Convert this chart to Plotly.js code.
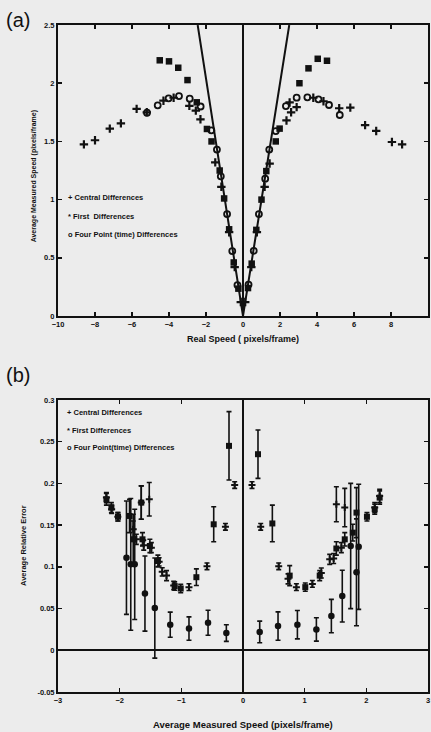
<!DOCTYPE html>
<html><head><meta charset="utf-8">
<script src="https://cdn.plot.ly/plotly-3.0.1.min.js"></script>
<style>html,body{margin:0;padding:0;background:#ececec;}#c{width:431px;height:732px;}</style>
</head><body><div id="c"></div>
<script>
// ---- Panel (a): Real speed vs average measured speed ----
const idealX = [-2.45, 0, 2.5];
const idealY = [2.5, 0, 2.5];

const centralX_a = [-8.6, -8.0, -7.2, -6.6, -5.75, -5.2, -4.3, -3.75, -2.9, -2.55, -2.3, -1.5, -1.17, -0.75, -0.45, -0.12, 0.12, 0.45, 0.75, 1.17, 1.44, 2.35, 2.52, 2.6, 2.9, 3.8, 4.35, 5.2, 5.8, 6.6, 7.2, 8.05, 8.6];
const centralY_a = [1.475, 1.51, 1.61, 1.655, 1.78, 1.75, 1.85, 1.875, 1.805, 1.765, 1.69, 1.32, 1.11, 0.72, 0.42, 0.12, 0.12, 0.42, 0.72, 1.11, 1.31, 1.68, 1.835, 1.75, 1.795, 1.875, 1.845, 1.785, 1.79, 1.64, 1.59, 1.495, 1.475];

const firstX_a = [-4.5, -4.0, -3.5, -3.0, -2.5, -1.95, -1.7, -1.26, -1.02, -0.75, -0.5, -0.25, 0.27, 0.47, 0.72, 1.0, 1.26, 1.77, 1.98, 3.05, 3.54, 4.04, 4.54];
const firstY_a = [2.197, 2.188, 2.133, 2.027, 1.836, 1.607, 1.5, 1.25, 1.01, 0.745, 0.46, 0.235, 0.24, 0.45, 0.74, 1.0, 1.245, 1.5, 1.61, 2.0, 2.128, 2.21, 2.193];

const fourX_a = [-5.19, -4.61, -4.02, -3.46, -2.88, -2.29, -1.71, -1.41, -1.2, -0.86, -0.58, -0.3, 0.3, 0.58, 0.86, 1.2, 1.42, 1.77, 2.32, 2.9, 3.48, 4.08, 4.65, 5.23];
const fourY_a = [1.747, 1.81, 1.87, 1.89, 1.867, 1.8, 1.595, 1.43, 1.2, 0.876, 0.558, 0.266, 0.27, 0.56, 0.876, 1.18, 1.43, 1.589, 1.804, 1.876, 1.879, 1.862, 1.813, 1.727];

// ---- Panel (b): average measured speed vs average relative error ----
const centralX_b = [-2.215, -2.13, -2.03, -1.78, -1.73, -1.65, -1.61, -1.52, -1.486, -1.36, -1.31, -1.24, -1.124, -0.876, -0.584, -0.285, -0.135, 0.146, 0.287, 0.579, 0.73, 0.866, 1.125, 1.27, 1.406, 1.47, 1.514, 1.595, 1.65, 2.136, 2.216];
const centralY_b = [0.183, 0.169, 0.16, 0.145, 0.133, 0.177, 0.126, 0.181, 0.123, 0.106, 0.094, 0.0895, 0.0776, 0.0757, 0.1007, 0.148, 0.198, 0.198, 0.148, 0.1007, 0.0856, 0.0757, 0.0796, 0.0927, 0.109, 0.11, 0.175, 0.123, 0.171, 0.171, 0.185];
const centralE_b = [0.006, 0.005, 0.005, 0.01, 0.006, 0.02, 0.006, 0.02, 0.006, 0.005, 0.005, 0.006, 0.005, 0.004, 0.004, 0.004, 0.004, 0.004, 0.004, 0.004, 0.006, 0.004, 0.004, 0.006, 0.006, 0.006, 0.021, 0.006, 0.023, 0.006, 0.008];

const firstX_b = [-2.215, -2.134, -2.027, -1.84, -1.78, -1.65, -1.63, -1.51, -1.38, -1.108, -1.01, -0.756, -0.475, -0.227, 0.243, 0.476, 0.757, 1.01, 1.244, 1.514, 1.65, 1.78, 1.84, 2.01, 2.136, 2.216];
const firstY_b = [0.181, 0.171, 0.16, 0.161, 0.133, 0.177, 0.133, 0.125, 0.107, 0.077, 0.074, 0.0876, 0.151, 0.245, 0.235, 0.152, 0.0895, 0.0757, 0.0895, 0.122, 0.133, 0.141, 0.165, 0.16, 0.169, 0.183];
const firstE_b = [0.007, 0.006, 0.005, 0.02, 0.03, 0.02, 0.008, 0.008, 0.007, 0.005, 0.005, 0.01, 0.021, 0.041, 0.029, 0.022, 0.012, 0.005, 0.006, 0.008, 0.008, 0.01, 0.03, 0.005, 0.006, 0.008];

const fourX_b = [-1.89, -1.82, -1.756, -1.59, -1.43, -1.18, -0.876, -0.567, -0.27, 0.271, 0.568, 0.882, 1.19, 1.433, 1.61, 1.746, 1.84, 1.876];
const fourY_b = [0.111, 0.103, 0.103, 0.068, 0.0506, 0.0307, 0.026, 0.033, 0.0207, 0.022, 0.029, 0.0307, 0.025, 0.041, 0.065, 0.125, 0.0935, 0.124];
const fourE_b = [0.068, 0.079, 0.066, 0.045, 0.06, 0.015, 0.014, 0.015, 0.01, 0.013, 0.017, 0.017, 0.014, 0.02, 0.031, 0.075, 0.064, 0.075];

const xTicksA = [-10, -8, -6, -4, -2, 0, 2, 4, 6, 8, 10];
const yTicksA = [0, 0.5, 1, 1.5, 2, 2.5];
const yTickTextA = ['0', '0.5', '1', '1.5', '2', '2.5'];
const xTicksB = [-3, -2, -1, 0, 1, 2, 3];
const yTicksB = [-0.05, 0, 0.05, 0.1, 0.15, 0.2, 0.25, 0.3];
const yTickTextB = ['-0.05', '0', '0.05', '0.1', '0.15', '0.2', '0.25', '0.3'];

const INK = '#111';
const FONT = 'Liberation Sans, Arial, sans-serif';
const tf = {family: FONT, size: 7.5, color: INK, weight: 'bold'};

function eb(arr){return {type:'data', array:arr, visible:true, color:INK, thickness:1.6, width:2.5};}

const traces = [
  {x: idealX, y: idealY, xaxis:'x', yaxis:'y', mode:'lines', line:{color:INK, width:2}, hoverinfo:'skip'},
  {x: centralX_a, y: centralY_a, xaxis:'x', yaxis:'y', mode:'markers', marker:{symbol:'cross-thin-open', size:6, color:INK, line:{color:INK, width:2.2}}},
  {x: firstX_a, y: firstY_a, xaxis:'x', yaxis:'y', mode:'markers', marker:{symbol:'square', size:6.5, color:INK}},
  {x: fourX_a, y: fourY_a, xaxis:'x', yaxis:'y', mode:'markers', marker:{symbol:'circle-open', size:6, color:INK, line:{color:INK, width:1.8}}},
  {x: centralX_b, y: centralY_b, error_y: eb(centralE_b), xaxis:'x2', yaxis:'y2', mode:'markers', marker:{symbol:'cross-thin-open', size:5, color:INK, line:{color:INK, width:2}}},
  {x: firstX_b, y: firstY_b, error_y: eb(firstE_b), xaxis:'x2', yaxis:'y2', mode:'markers', marker:{symbol:'square', size:6, color:INK}},
  {x: fourX_b, y: fourY_b, error_y: eb(fourE_b), xaxis:'x2', yaxis:'y2', mode:'markers', marker:{symbol:'circle', size:6.5, color:INK}}
];

const ax = {showline:true, linecolor:INK, linewidth:2, mirror:'ticks', ticks:'inside', ticklen:4, tickwidth:1.5, tickcolor:INK, showgrid:false, tickfont:tf, fixedrange:true};

function ann(x, y, xref, yref, text, size, opts){
  return Object.assign({x, y, xref, yref, text, showarrow:false, font:{family:FONT, size, color:INK, weight:'bold'}, xanchor:'left', yanchor:'middle'}, opts||{});
}

const layout = {
  width: 431, height: 732,
  margin: {l:58, r:3, t:0, b:0},
  paper_bgcolor:'#ececec', plot_bgcolor:'#ececec',
  showlegend:false,
  xaxis: Object.assign({}, ax, {domain:[0,1], anchor:'y', range:[-10,10], tickvals:xTicksA, zeroline:true, zerolinecolor:INK, zerolinewidth:1.8}),
  yaxis: Object.assign({}, ax, {domain:[0.5683, 0.9658], anchor:'x', range:[0,2.5], tickvals:yTicksA, ticktext:yTickTextA, zeroline:false}),
  xaxis2: Object.assign({}, ax, {domain:[0,1], anchor:'y2', range:[-3,3], tickvals:xTicksB, zeroline:true, zerolinecolor:INK, zerolinewidth:1.8}),
  yaxis2: Object.assign({}, ax, {domain:[0.0546, 0.4536], anchor:'x2', range:[-0.05,0.3], tickvals:yTicksB, ticktext:yTickTextB, zeroline:true, zerolinecolor:INK, zerolinewidth:2}),
  annotations: [
    {x:0, y:1 - 20/732, xref:'paper', yref:'paper', xshift:-54, text:'(a)', showarrow:false, font:{family:FONT, size:20, color:INK}, xanchor:'left', yanchor:'middle'},
    {x:0, y:1 - 375/732, xref:'paper', yref:'paper', xshift:-54, text:'(b)', showarrow:false, font:{family:FONT, size:20, color:INK}, xanchor:'left', yanchor:'middle'},
    ann(-9.55, 1.02, 'x', 'y', '+ Central Differences', 7.5),
    ann(-9.55, 0.853, 'x', 'y', '* First  Differences', 7.5),
    ann(-9.55, 0.704, 'x', 'y', 'o Four Point (time) Differences', 7.5),
    ann(-2.89, 0.285, 'x2', 'y2', '+ Central Differences', 7.5),
    ann(-2.89, 0.2637, 'x2', 'y2', '* First Differences', 7.5),
    ann(-2.89, 0.2427, 'x2', 'y2', 'o Four Point(time) Differences', 7.5),
    {x:0, y:0.5683, xref:'x', yref:'paper', yshift:-23, text:'Real Speed ( pixels/frame)', showarrow:false, font:{family:FONT, size:9, color:INK, weight:'bold'}, xanchor:'center', yanchor:'middle'},
    {x:0, y:0.0546, xref:'x2', yref:'paper', yshift:-32, text:'Average Measured Speed (pixels/frame)', showarrow:false, font:{family:FONT, size:9.5, color:INK, weight:'bold'}, xanchor:'center', yanchor:'middle'},
    {x:0, y:1.2, xref:'paper', yref:'y', xshift:-24, text:'Average Measured Speed (pixels/frame)', textangle:-90, showarrow:false, font:{family:FONT, size:7, color:INK, weight:'bold'}, xanchor:'center', yanchor:'middle'},
    {x:0, y:0.125, xref:'paper', yref:'y2', xshift:-34, text:'Average Relative Error', textangle:-90, showarrow:false, font:{family:FONT, size:7.5, color:INK, weight:'bold'}, xanchor:'center', yanchor:'middle'}
  ]
};

Plotly.newPlot('c', traces, layout, {displayModeBar:false, staticPlot:true});
</script>
</body></html>
